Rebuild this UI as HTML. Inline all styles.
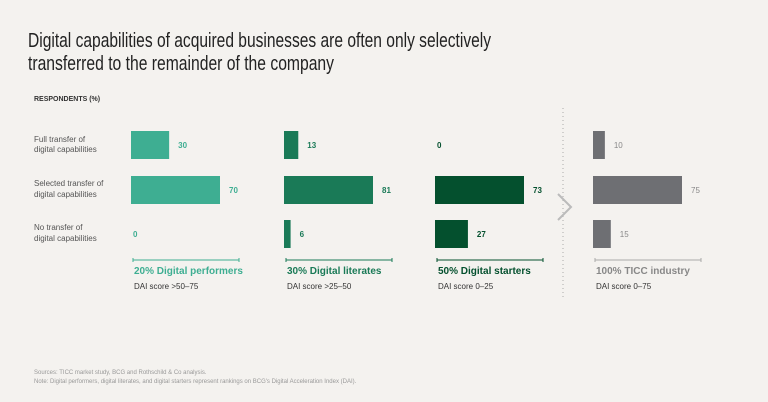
<!DOCTYPE html>
<html><head><meta charset="utf-8"><style>
body{margin:0;background:#f4f2ef;}
svg{display:block;font-family:"Liberation Sans",sans-serif;}
</style></head><body>
<svg id="chart" width="768" height="402" viewBox="0 0 768 402">
<rect width="768" height="402" fill="#f4f2ef"/>
<text x="28" y="47" font-size="20" fill="#222" textLength="463" lengthAdjust="spacingAndGlyphs">Digital capabilities of acquired businesses are often only selectively</text>
<text x="28" y="70" font-size="20" fill="#222" textLength="306" lengthAdjust="spacingAndGlyphs">transferred to the remainder of the company</text>
<text x="34" y="101" font-size="7" font-weight="bold" fill="#333">RESPONDENTS (%)</text>
<g>
<text x="34" y="142" font-size="8" fill="#555">Full transfer of</text>
<text x="34" y="152" font-size="8" fill="#555">digital capabilities</text>
<text x="34" y="186" font-size="8" fill="#555">Selected transfer of</text>
<text x="34" y="197" font-size="8" fill="#555">digital capabilities</text>
<text x="34" y="230" font-size="8" fill="#555">No transfer of</text>
<text x="34" y="241" font-size="8" fill="#555">digital capabilities</text>
</g>
<line x1="563" y1="108" x2="563" y2="300" stroke="#aaa" stroke-dasharray="1,3"/>
<polyline points="558,194 571,207 558,220" fill="none" stroke="#bbb" stroke-width="2"/>
<g id="bars"></g>
</svg>
<script>
const categories = ["Full transfer", "Selected transfer", "No transfer"];
const performers = [30, 70, 0];
const literates = [13, 81, 6];
const starters = [0, 73, 27];
const industry = [10, 75, 15];
const groupTitles = ["20% Digital performers", "30% Digital literates", "50% Digital starters", "100% TICC industry"];
const groupSubtitles = ["DAI score >50–75", "DAI score >25–50", "DAI score 0–25", "DAI score 0–75"];

const series = [performers, literates, starters, industry];
const colors = ["#3eae92", "#1a7a57", "#04502e", "#6e6f73"];
const textColors = ["#3eae92", "#1a7a57", "#04502e", "#888"];
const panelX = [131, 284, 435, 593];
const bracketW = 108;
const maxW = 89;
const rowY = [131, 176, 220];
const barH = 28;
const ns = "http://www.w3.org/2000/svg";
const g = document.getElementById("bars");
function mk(tag, attrs){const e=document.createElementNS(ns,tag);for(const k in attrs)e.setAttribute(k,attrs[k]);g.appendChild(e);return e;}
function xScale(v, max){return v / max * maxW;}
series.forEach((vals, p) => {
  const max = Math.max(...vals);
  vals.forEach((v, i) => {
    const w = xScale(v, max);
    if (w > 0) {
      const r = mk("rect", {x: panelX[p], y: rowY[i], width: w, height: barH, fill: colors[p]});
      
      
    }
    const t = mk("text", {x: panelX[p] + w + (w > 0 ? 9 : 2), y: rowY[i] + barH/2 + 3, "font-size": 8, "font-weight": p < 3 ? "bold" : "normal", fill: textColors[p]});
    t.textContent = v;
    
    
  });
  const x0 = panelX[p] + 2, x1 = panelX[p] + bracketW;
  const l = mk("path", {d: `M${x0},258 V262 M${x0},260 H${x1} M${x1},258 V262`, stroke: p < 3 ? colors[p] : "#aaa", "stroke-width": 1, fill: "none"});
  
  
  const t1 = mk("text", {x: panelX[p] + 3, y: 274, "font-size": 10, "font-weight": "bold", fill: textColors[p]});
  t1.textContent = groupTitles[p];
  
  
  const t2 = mk("text", {x: panelX[p] + 3, y: 289, "font-size": 8, fill: "#333"});
  t2.textContent = groupSubtitles[p];
  
  
});
</script>
<div style="position:absolute;left:34px;top:369px;font:6px 'Liberation Sans',sans-serif;color:#999;line-height:9px">
<div>Sources: TICC market study, BCG and Rothschild &amp; Co analysis.</div>
<div>Note: Digital performers, digital literates, and digital starters represent rankings on BCG's Digital Acceleration Index (DAI).</div>
</div>
</body></html>
